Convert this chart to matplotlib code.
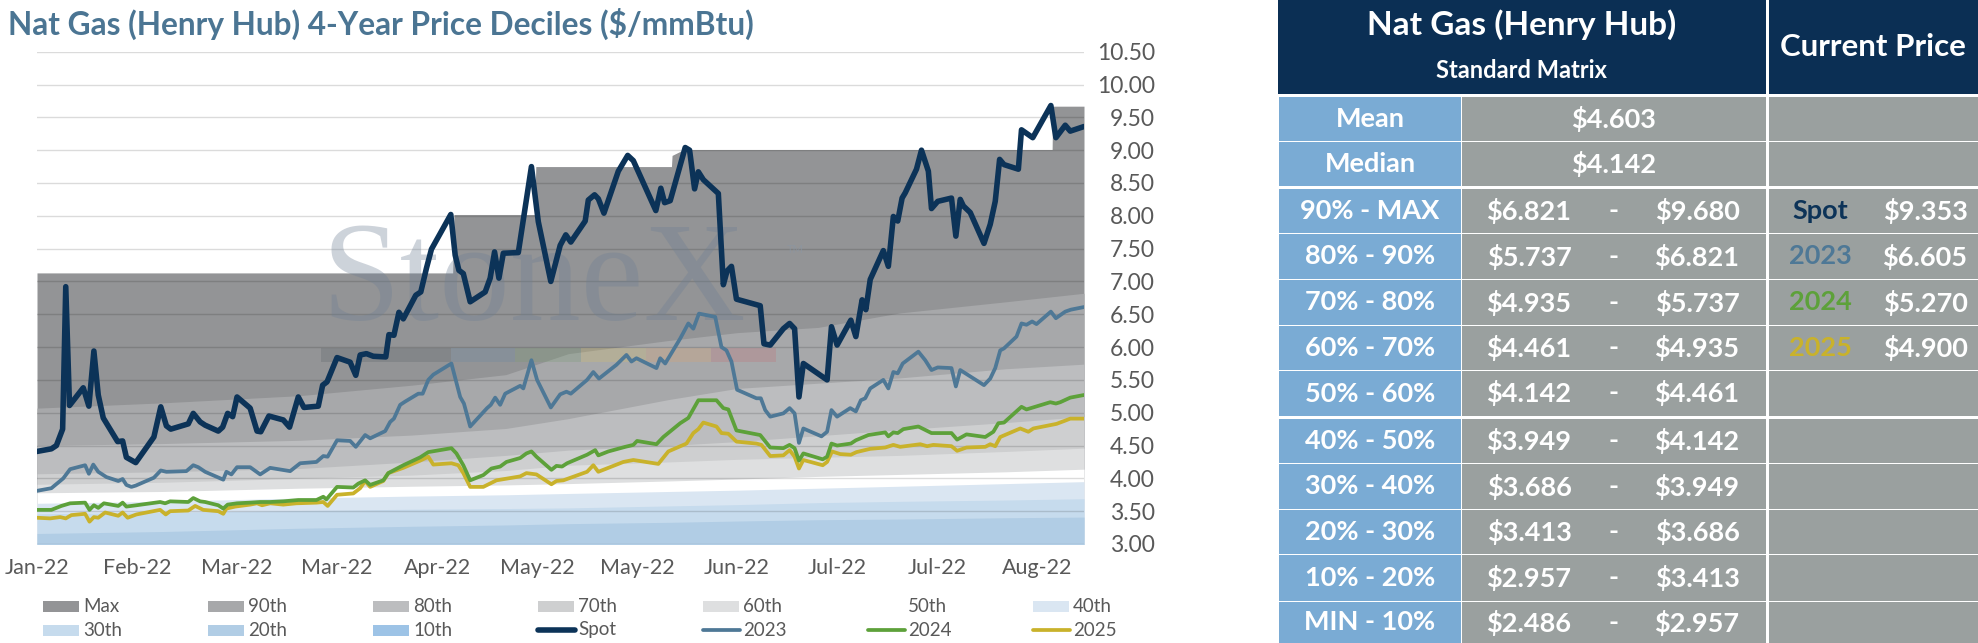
import numpy as np
import matplotlib
matplotlib.use("Agg")
import matplotlib.pyplot as plt
from matplotlib.patches import Rectangle

plt.rcParams['font.family'] = ['Lato', 'DejaVu Sans']

# ---------------- data (x = trading-day position on the chart) ----------------
tick_pos = [0, 16, 32, 48, 64, 80, 96, 112, 128, 144, 160]
tick_labels = ["Jan-22", "Feb-22", "Mar-22", "Mar-22", "Apr-22", "May-22",
               "May-22", "Jun-22", "Jul-22", "Jul-22", "Aug-22"]

spot_x = [0, 2.3, 3.1, 4.1, 4.6, 5.2, 7.4, 8.3, 9.1, 9.8, 10.6, 12.9, 13.7, 14.3, 15.8,
          18.7, 19.8, 20.7, 21.4, 24.2, 25.0, 26.1, 26.9, 29.0, 29.7, 30.5, 31.3, 32.0,
          34.1, 35.2, 35.8, 37.1, 39.4, 40.4, 41.8, 42.7, 45.0, 45.7, 46.4, 48.0, 50.1,
          51.0, 51.7, 52.7, 53.8, 55.8, 56.3, 57.1, 57.9, 58.6, 60.6, 61.4, 62.3, 63.1,
          66.2, 66.9, 67.5, 68.2, 69.3, 71.7, 72.5, 73.2, 73.9, 74.6, 77.0, 79.1, 80.2,
          82.2, 83.7, 84.6, 85.4, 87.7, 88.2, 89.2, 89.8, 90.7, 93.0, 93.5, 94.5, 95.4,
          99.0, 99.8, 100.4, 101.3, 103.7, 104.4, 105.2, 105.8, 106.6, 109.0, 109.8,
          110.4, 111.1, 111.9, 115.7, 116.3, 117.3, 119.4, 120.4, 121.2, 121.9, 122.6,
          126.4, 127.1, 128.0, 130.2, 131.0, 132.0, 132.6, 133.3, 135.4, 136.2, 137.0,
          137.7, 138.4, 138.9, 140.7, 141.5, 142.6, 143.1, 144.1, 146.3, 147.0, 147.7,
          148.2, 149.3, 151.5, 152.5, 153.3, 154.0, 154.7, 157.0, 157.5, 159.3, 162.2,
          163.0, 164.5, 165.3, 167.5]
spot_y = [4.41, 4.45, 4.50, 4.75, 6.92, 5.11, 5.38, 5.10, 5.94, 5.27, 4.92, 4.56, 4.57, 4.32, 4.24,
          4.63, 5.09, 4.80, 4.75, 4.83, 4.99, 4.86, 4.81, 4.72, 4.78, 4.99, 4.94, 5.24,
          5.07, 4.72, 4.71, 4.95, 4.89, 4.78, 5.24, 5.08, 5.10, 5.42, 5.47, 5.84, 5.77,
          5.57, 5.88, 5.90, 5.86, 5.85, 6.19, 6.18, 6.53, 6.43, 6.79, 6.84, 7.20, 7.49,
          8.02, 7.40, 7.17, 7.12, 6.69, 6.84, 7.05, 7.45, 7.05, 7.43, 7.44, 8.75, 7.91,
          7.00, 7.55, 7.71, 7.60, 7.92, 8.24, 8.32, 8.26, 8.04, 8.68, 8.76, 8.92, 8.84,
          8.08, 8.42, 8.20, 8.23, 9.04, 9.00, 8.41, 8.67, 8.55, 8.34, 6.95,
          7.16, 7.23, 6.73, 6.63, 6.05, 6.03, 6.28, 6.36, 6.28, 5.24, 5.75,
          5.50, 6.31, 6.03, 6.41, 6.16, 6.72, 6.57, 7.03, 7.47, 7.23, 7.99,
          7.92, 8.27, 8.35, 8.71, 9.00, 8.68, 8.11, 8.22, 8.27, 7.69, 8.25,
          8.15, 8.05, 7.58, 7.87, 8.22, 8.86, 8.78, 8.71, 9.31, 9.19, 9.68,
          9.19, 9.38, 9.29, 9.36]

y2023_x = [0, 2.3, 4.2, 5.3, 7.7, 8.3, 9.0, 9.8, 11.1, 13.0, 13.7, 14.3, 15.1, 15.8, 18.7,
           19.8, 20.7, 23.9, 25.0, 25.8, 26.9, 29.8, 30.3, 31.1, 32.0, 34.1, 35.7, 37.3,
           40.5, 42.1, 44.7, 45.8, 46.5, 48.0, 50.1, 51.0, 52.5, 53.3, 55.7, 56.5, 57.1,
           58.1, 58.9, 61.0, 61.7, 62.6, 63.4, 66.3, 67.7, 68.3, 69.3, 72.0, 72.6, 73.3,
           74.1, 74.9, 77.3, 77.8, 79.1, 80.0, 82.2, 83.7, 84.7, 85.4, 88.0, 89.0, 89.9,
           92.7, 94.3, 95.1, 95.9, 99.1, 99.7, 100.5, 102.9, 104.2, 105.0, 105.9, 108.5,
           109.5, 110.3, 111.1, 112.0, 115.1, 115.8, 116.5, 117.3, 119.4, 120.4, 121.2,
           121.9, 122.6, 125.5, 126.4, 127.1, 128.0, 130.1, 131.0, 131.8, 132.5, 133.3,
           135.4, 136.2, 137.0, 137.7, 138.5, 141.0, 142.1, 143.1, 144.1, 146.3, 147.0,
           147.7, 151.5, 152.5, 153.3, 154.1, 154.7, 156.7, 157.5, 158.3, 159.2, 159.9,
           162.2, 163.0, 164.5, 165.4, 167.5]
y2023_y = [3.81, 3.85, 4.00, 4.14, 4.20, 4.07, 4.21, 4.10, 4.02, 3.96, 3.99, 3.90, 3.87, 3.89, 4.01,
           4.12, 4.10, 4.11, 4.20, 4.17, 4.10, 3.98, 4.10, 4.06, 4.17, 4.17, 4.06, 4.16,
           4.11, 4.23, 4.25, 4.34, 4.33, 4.58, 4.57, 4.48, 4.66, 4.61, 4.72, 4.86, 4.91,
           5.12, 5.17, 5.29, 5.29, 5.50, 5.58, 5.75, 5.24, 5.14, 4.79, 5.07, 5.12, 5.23,
           5.12, 5.29, 5.41, 5.37, 5.80, 5.50, 5.08, 5.28, 5.32, 5.29, 5.50, 5.62, 5.52,
           5.73, 5.88, 5.78, 5.83, 5.68, 5.83, 5.75, 6.13, 6.36, 6.28, 6.51, 6.46,
           6.00, 5.95, 5.78, 5.35, 5.22, 5.22, 5.04, 4.94, 4.99, 5.07, 4.99,
           4.54, 4.76, 4.64, 4.71, 5.04, 4.94, 5.07, 5.02, 5.19, 5.22, 5.37,
           5.50, 5.37, 5.62, 5.60, 5.75, 5.93, 5.80, 5.65, 5.69, 5.68, 5.40,
           5.65, 5.42, 5.52, 5.68, 5.95, 5.98, 6.16, 6.36, 6.34, 6.39, 6.35,
           6.54, 6.44, 6.54, 6.57, 6.61]

y2024_x = [0, 2.3, 3.9, 5.3, 7.7, 8.4, 9.1, 9.8, 10.7, 13.0, 13.7, 14.3, 15.9, 19.7, 20.5,
           21.3, 24.2, 25.0, 26.1, 26.9, 29.0, 29.8, 30.5, 32.0, 34.1, 35.7, 37.3, 39.4,
           41.8, 44.7, 45.8, 46.3, 48.0, 50.6, 51.4, 52.5, 53.3, 55.4, 56.2, 58.6, 61.3,
           62.6, 66.3, 67.1, 68.2, 69.3, 71.4, 72.7, 74.1, 75.1, 77.3, 78.3, 79.1, 79.9,
           82.3, 83.1, 84.0, 84.8, 88.0, 89.3, 89.8, 91.4, 94.1, 95.4, 96.0, 99.1, 100.2,
           102.9, 104.2, 105.8, 108.7, 109.8, 110.6, 111.9, 115.7, 117.3, 119.4, 120.4,
           121.2, 121.9, 122.6, 125.7, 126.4, 127.1, 128.0, 130.2, 131.0, 133.0, 135.7,
           136.2, 137.0, 137.7, 138.6, 141.0, 143.1, 146.3, 147.2, 148.7, 151.7, 153.0,
           153.8, 154.7, 157.5, 158.3, 162.1, 163.0, 163.7, 165.3, 167.5]
y2024_y = [3.52, 3.52, 3.58, 3.62, 3.63, 3.52, 3.59, 3.55, 3.62, 3.58, 3.63, 3.57, 3.59, 3.64, 3.62,
           3.65, 3.64, 3.70, 3.65, 3.64, 3.59, 3.54, 3.60, 3.62, 3.63, 3.64, 3.64, 3.65,
           3.67, 3.67, 3.72, 3.68, 3.87, 3.86, 3.92, 3.97, 3.90, 3.97, 4.08, 4.20, 4.32,
           4.40, 4.46, 4.38, 4.20, 3.97, 4.05, 4.15, 4.18, 4.25, 4.31, 4.38, 4.41, 4.33,
           4.13, 4.19, 4.18, 4.23, 4.36, 4.43, 4.35, 4.41, 4.48, 4.51, 4.57, 4.52, 4.63,
           4.84, 4.92, 5.19, 5.19, 5.07, 5.05, 4.73, 4.66, 4.47, 4.46, 4.51,
           4.46, 4.27, 4.38, 4.29, 4.33, 4.53, 4.50, 4.53, 4.58, 4.66, 4.70,
           4.64, 4.70, 4.69, 4.75, 4.79, 4.69, 4.69, 4.59, 4.67, 4.63, 4.71,
           4.84, 4.85, 5.09, 5.05, 5.16, 5.14, 5.16, 5.23, 5.27]

y2025_x = [0, 2.1, 3.7, 4.6, 5.5, 7.7, 8.4, 9.1, 9.8, 10.9, 13.0, 13.7, 14.5, 15.9, 19.7,
           20.6, 21.3, 24.2, 25.3, 26.6, 29.0, 29.8, 30.3, 31.7, 34.1, 35.2, 36.0, 37.3,
           39.4, 41.5, 44.7, 45.8, 46.5, 48.0, 50.6, 51.7, 52.5, 53.3, 55.4, 56.2, 58.6,
           61.3, 62.6, 63.4, 66.3, 67.4, 68.2, 69.3, 71.4, 73.5, 77.3, 78.3, 79.9, 82.3,
           83.1, 84.2, 88.0, 89.0, 89.8, 92.2, 93.8, 95.4, 99.4, 101.0, 103.9, 105.0,
           105.8, 106.6, 108.7, 109.5, 110.6, 111.9, 115.1, 115.9, 117.3, 119.4, 120.4,
           121.2, 121.9, 122.6, 125.7, 126.4, 127.2, 128.5, 130.2, 131.1, 133.3, 135.7,
           137.0, 138.1, 141.3, 142.4, 143.4, 146.3, 147.2, 148.7, 151.7, 152.5, 153.3,
           154.1, 157.3, 158.6, 159.4, 163.1, 164.5, 165.3, 167.5]
y2025_y = [3.40, 3.39, 3.41, 3.39, 3.44, 3.46, 3.34, 3.41, 3.40, 3.48, 3.43, 3.48, 3.40, 3.45, 3.52,
           3.45, 3.50, 3.51, 3.58, 3.52, 3.50, 3.46, 3.54, 3.57, 3.60, 3.62, 3.59, 3.62,
           3.60, 3.62, 3.63, 3.64, 3.58, 3.75, 3.77, 3.85, 3.96, 3.87, 3.96, 4.08, 4.16,
           4.27, 4.33, 4.21, 4.23, 4.20, 4.08, 3.87, 3.87, 3.97, 4.03, 4.08, 4.06, 3.91,
           3.96, 3.97, 4.10, 4.20, 4.10, 4.19, 4.25, 4.28, 4.22, 4.41, 4.53, 4.69,
           4.75, 4.85, 4.79, 4.69, 4.68, 4.56, 4.53, 4.51, 4.34, 4.35, 4.43,
           4.33, 4.15, 4.28, 4.20, 4.25, 4.41, 4.37, 4.36, 4.40, 4.45, 4.47,
           4.51, 4.48, 4.52, 4.49, 4.51, 4.49, 4.42, 4.47, 4.48, 4.52, 4.49,
           4.63, 4.76, 4.71, 4.76, 4.83, 4.88, 4.91, 4.91]

# decile bands (4-year history), read at coarser steps
max_x = [0, 66.5, 66.7, 79.6, 79.8, 101.5, 101.6, 103.5, 162.4, 162.5, 167.5]
max_y = [7.13, 7.13, 8.02, 8.02, 8.75, 8.75, 8.92, 9.01, 9.01, 9.67, 9.67]
band_x = [0, 20, 42, 60, 75, 85, 101, 112, 125, 138, 155, 167.5]
p90 = [5.07, 5.15, 5.26, 5.42, 5.58, 5.90, 6.10, 6.22, 6.30, 6.52, 6.69, 6.82]
p80 = [4.50, 4.53, 4.58, 4.66, 4.76, 4.91, 5.20, 5.37, 5.45, 5.53, 5.67, 5.74]
p70 = [4.07, 4.10, 4.15, 4.25, 4.35, 4.43, 4.50, 4.56, 4.65, 4.74, 4.85, 4.94]
p60 = [3.91, 3.94, 4.00, 4.05, 4.12, 4.20, 4.25, 4.29, 4.32, 4.35, 4.41, 4.46]
p50 = [3.78, 3.80, 3.85, 3.88, 3.90, 3.92, 3.96, 3.99, 4.03, 4.06, 4.10, 4.14]
p40 = [3.62, 3.65, 3.70, 3.73, 3.75, 3.77, 3.80, 3.82, 3.85, 3.88, 3.92, 3.95]
p30 = [3.46, 3.48, 3.51, 3.53, 3.54, 3.55, 3.58, 3.60, 3.63, 3.65, 3.67, 3.69]
p20 = [3.16, 3.19, 3.24, 3.27, 3.29, 3.31, 3.33, 3.35, 3.37, 3.38, 3.40, 3.41]
p10 = [2.85, 2.86, 2.87, 2.88, 2.89, 2.90, 2.91, 2.92, 2.93, 2.94, 2.95, 2.96]

# table
row_labels = ["Mean", "Median", "90% - MAX", "80% - 90%", "70% - 80%", "60% - 70%",
              "50% - 60%", "40% - 50%", "30% - 40%", "20% - 30%", "10% - 20%", "MIN - 10%"]
row_low = ["$4.603", "$4.142", "$6.821", "$5.737", "$4.935", "$4.461", "$4.142",
           "$3.949", "$3.686", "$3.413", "$2.957", "$2.486"]
row_high = [None, None, "$9.680", "$6.821", "$5.737", "$4.935", "$4.461",
            "$4.142", "$3.949", "$3.686", "$3.413", "$2.957"]
cur_names = ["Spot", "2023", "2024", "2025"]
cur_values = ["$9.353", "$6.605", "$5.270", "$4.900"]

# ---------------- styles ----------------
band_cols = {"Max": "#939496", "90th": "#a7a8aa", "80th": "#bcbdbf", "70th": "#cecfd0",
             "60th": "#dedfe0", "50th": "#ffffff", "40th": "#dae6f2", "30th": "#c6dbed",
             "20th": "#b1cde5", "10th": "#9dc3e6"}
line_cols = {"Spot": "#0c3358", "2023": "#4e7896", "2024": "#5da13a", "2025": "#c9b22b"}
line_w = {"Spot": 4.0, "2023": 2.7, "2024": 2.7, "2025": 2.7}
grey_txt = "#595959"

W, H = 1978, 643
fig = plt.figure(figsize=(W / 100, H / 100), dpi=100)
fig.patch.set_facecolor("white")

ax = fig.add_axes([37 / W, 1 - 544 / H, (1084 - 37) / W, (544 - 51.7) / H])

ax.fill_between(max_x, 0, max_y, color=band_cols["Max"], lw=0, zorder=1)
for name, vals in [("90th", p90), ("80th", p80), ("70th", p70), ("60th", p60), ("50th", p50),
                   ("40th", p40), ("30th", p30), ("20th", p20), ("10th", p10)]:
    ax.fill_between(band_x, 0, vals, color=band_cols[name], lw=0, zorder=1)

# watermark
ax.text(0.272, 0.455, "StoneX", transform=ax.transAxes, family="Liberation Serif",
        fontsize=102, color="#6e7f94", alpha=0.34, ha="left", va="baseline", zorder=2.6)
ax.text(0.716, 0.61, "TM", transform=ax.transAxes, fontsize=8, color="#8a96a4",
        alpha=0.6, ha="left", va="top", zorder=2.6)
bar_cols = ["#4e555e", "#5f86a8", "#6f9a66", "#e0c55a", "#e8a060", "#c8606a"]
bar_edges = [0.271, 0.395, 0.457, 0.520, 0.582, 0.644, 0.706]
for i, c in enumerate(bar_cols):
    ax.add_patch(Rectangle((bar_edges[i], 0.369), bar_edges[i + 1] - bar_edges[i], 0.030,
                           transform=ax.transAxes, color=c, alpha=0.22, lw=0, zorder=2.6))

ax.plot(y2025_x, y2025_y, color=line_cols["2025"], lw=line_w["2025"], zorder=4,
        solid_joinstyle="round", solid_capstyle="round")
ax.plot(y2024_x, y2024_y, color=line_cols["2024"], lw=line_w["2024"], zorder=4,
        solid_joinstyle="round", solid_capstyle="round")
ax.plot(y2023_x, y2023_y, color=line_cols["2023"], lw=line_w["2023"], zorder=4,
        solid_joinstyle="round", solid_capstyle="round")
ax.plot(spot_x, spot_y, color=line_cols["Spot"], lw=line_w["Spot"], zorder=5,
        solid_joinstyle="round", solid_capstyle="round")

ax.set_xlim(0, 167.5)
ax.set_ylim(3, 10.5)
yt = np.arange(3, 10.51, 0.5)
ax.yaxis.tick_right()
ax.set_yticks(yt)
ax.set_yticklabels([f"{v:.2f}" for v in yt], ha="right")
ax.set_xticks(tick_pos)
ax.set_xticklabels(tick_labels)
ax.tick_params(axis="y", length=0, pad=51, labelsize=16.5, labelcolor=grey_txt)
ax.tick_params(axis="x", length=0, pad=10, labelsize=15.5, labelcolor=grey_txt)
ax.set_axisbelow(False)
ax.grid(axis="y", color="black", alpha=0.14, lw=1.0)
for s in ax.spines.values():
    s.set_visible(False)
ax.patch.set_alpha(0)

# ---------------- overlay in pixel coordinates: title, legend, table ----------------
ov = fig.add_axes([0, 0, 1, 1], zorder=10)
ov.set_xlim(0, W)
ov.set_ylim(H, 0)
ov.axis("off")
ov.patch.set_alpha(0)

ov.text(8, 24, "Nat Gas (Henry Hub) 4-Year Price Deciles ($/mmBtu)", fontsize=22.8,
        fontweight="bold", color="#4b7593", ha="left", va="center")

legend_rows = [["Max", "90th", "80th", "70th", "60th", "50th", "40th"],
               ["30th", "20th", "10th", "Spot", "2023", "2024", "2025"]]
for r, names in enumerate(legend_rows):
    yc = 606 + 24 * r
    for k, name in enumerate(names):
        x0 = 43 + 165 * k
        if name in line_cols:
            ov.plot([x0, x0 + 37], [yc, yc], color=line_cols[name], lw=line_w[name],
                    solid_capstyle="round")
        else:
            ov.add_patch(Rectangle((x0, yc - 5.5), 36, 11, color=band_cols[name], lw=0))
        ov.text(x0 + 40, yc, name, fontsize=13.5, color=grey_txt, ha="left", va="center")

navy = "#0b2f54"
lab_bg = "#7aabd4"
val_bg = "#9aa09f"
ov.add_patch(Rectangle((1278, 0), 1766 - 1278, 94, color=navy, lw=0))
ov.add_patch(Rectangle((1769, 0), W - 1769, 94, color=navy, lw=0))
ov.text(1522, 25, "Nat Gas (Henry Hub)", fontsize=24, fontweight="bold", color="white",
        ha="center", va="center")
ov.text(1522, 71, "Standard Matrix", fontsize=17, fontweight="bold", color="white",
        ha="center", va="center")
ov.text(1873, 47, "Current Price", fontsize=22.5, fontweight="bold", color="white",
        ha="center", va="center")

row_tops = [97, 142, 189, 234, 280, 326, 371, 419, 464, 510, 555, 602, 644]
for i, lab in enumerate(row_labels):
    top = row_tops[i]
    bot = row_tops[i + 1] - (3 if i in (1, 6) else 1)
    h = bot - top
    yc = top + h / 2
    ov.add_patch(Rectangle((1279, top), 1461 - 1279, h, color=lab_bg, lw=0))
    ov.add_patch(Rectangle((1462, top), 1766 - 1462, h, color=val_bg, lw=0))
    ov.add_patch(Rectangle((1769, top), W - 1769, h, color=val_bg, lw=0))
    ov.text(1370, yc, lab, fontsize=19.5, fontweight="bold", color="white", ha="center", va="center")
    if row_high[i] is None:
        ov.text(1614, yc, row_low[i], fontsize=19.5, fontweight="bold", color="white",
                ha="center", va="center")
    else:
        ov.text(1529, yc, row_low[i], fontsize=19.5, fontweight="bold", color="white",
                ha="center", va="center")
        ov.text(1613, yc, "-", fontsize=19.5, fontweight="bold", color="white",
                ha="center", va="center")
        ov.text(1697, yc, row_high[i], fontsize=19.5, fontweight="bold", color="white",
                ha="center", va="center")
    j = i - 2
    if 0 <= j < len(cur_names):
        ov.text(1820, yc, cur_names[j], fontsize=19.5, fontweight="bold",
                color=line_cols[cur_names[j]], ha="center", va="center")
        ov.text(1925, yc, cur_values[j], fontsize=19.5, fontweight="bold", color="white",
                ha="center", va="center")

fig.savefig("out.png", dpi=100, facecolor="white")
